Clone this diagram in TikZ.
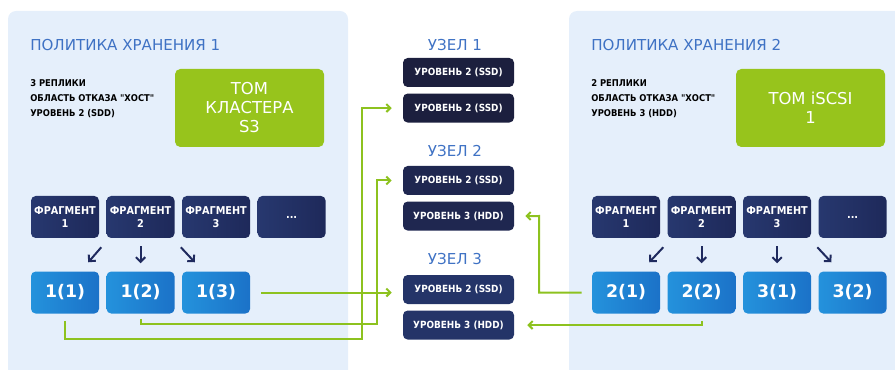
\documentclass[tikz,border=0pt]{standalone}
\usepackage{fontspec}
\setmainfont{DejaVu Sans}
\newfontfamily\condfont{DejaVu Sans Condensed}
\usetikzlibrary{arrows.meta, positioning}
\usepackage{xcolor}
\definecolor{panel}{HTML}{E5EFFB}
\definecolor{titleblue}{HTML}{3F72C4}
\definecolor{volgreen}{HTML}{97C41C}
\definecolor{linkgreen}{HTML}{8DC21F}
\definecolor{fragL}{HTML}{27386F}
\definecolor{fragR}{HTML}{1E295A}
\definecolor{replL}{HTML}{2492DC}
\definecolor{replR}{HTML}{1B72C8}
\definecolor{nodeA}{HTML}{1C1F3E}
\definecolor{nodeB}{HTML}{1F2750}
\definecolor{nodeC}{HTML}{243468}
\definecolor{arrownavy}{HTML}{1F2A5E}
\newcommand{\dq}{{\char34}}

\begin{document}
\begin{tikzpicture}[
x=0.75pt, y=-0.75pt,
node distance=5.25pt,
frag/.style={rectangle,
rounded corners=3.5pt,
minimum width=51pt,
minimum height=31.5pt,
inner sep=0pt,
align=center,
text=white,
font=\condfont\bfseries\fontsize{8.1}{9.75}\selectfont,
left color=fragL, right color=fragR},
replica/.style={frag,
font=\bfseries\fontsize{13}{15}\selectfont,
left color=replL, right color=replR},
disk/.style={rectangle,
rounded corners=3.5pt,
minimum width=83.25pt,
minimum height=21.75pt,
inner sep=0pt,
text=white,
font=\condfont\bfseries\fontsize{7.4}{8}\selectfont},
volume/.style={rectangle,
rounded corners=4pt,
fill=volgreen,
minimum width=111.75pt,
minimum height=58.5pt,
align=center,
text=white,
font=\fontsize{12.3}{14.25}\selectfont},
heading/.style={text=titleblue, inner sep=0pt, font=\fontsize{11.3}{13}\selectfont},
info/.style={anchor=west, inner sep=0pt, align=left, font=\condfont\bfseries\fontsize{7}{11.25}\selectfont},
link/.style={-{Straight Barb[length=3pt,width=6pt]}, linkgreen, line width=1.5pt},
drop/.style={-{Straight Barb[length=3.5pt,width=7pt]}, arrownavy, line width=1.5pt}
]
\useasboundingbox (0,0) rectangle (895,370);

% panels
\fill[panel, rounded corners=6pt] (8,11) rectangle (348,390);
\fill[panel, rounded corners=6pt] (569,11) rectangle (915,390);

% policy 1
\node[heading, anchor=west] (pol1) at (30,45) {ПОЛИТИКА ХРАНЕНИЯ 1};
\node[info] (pol1info) at (30,99) {3 РЕПЛИКИ\\ОБЛАСТЬ ОТКАЗА \dq ХОСТ\dq\\УРОВЕНЬ 2 (SDD)};
\node[volume] (vol1) at (249.5,108) {ТОМ\\КЛАСТЕРА\\S3};

\node[frag] (f11) at (65,217) {ФРАГМЕНТ\\1};
\node[frag, right=of f11] (f12) {ФРАГМЕНТ\\2};
\node[frag, right=of f12] (f13) {ФРАГМЕНТ\\3};
\node[frag, right=of f13] (f14) {...};

\node[replica, below=24.75pt of f11] (r11) {1(1)};
\node[replica, right=of r11] (r12) {1(2)};
\node[replica, right=of r12] (r13) {1(3)};

% nodes
\node[heading] (uzel1) at (455,45) {УЗЕЛ 1};
\node[disk, fill=nodeA] (n1a) at (458.5,72.5) {УРОВЕНЬ 2 (SSD)};
\node[disk, fill=nodeA, below=4.5pt of n1a] (n1b) {УРОВЕНЬ 2 (SSD)};

\node[heading] (uzel2) at (455,151) {УЗЕЛ 2};
\node[disk, fill=nodeB] (n2a) at (458.5,180.5) {УРОВЕНЬ 2 (SSD)};
\node[disk, fill=nodeB, below=4.5pt of n2a] (n2b) {УРОВЕНЬ 3 (HDD)};

\node[heading] (uzel3) at (455,259) {УЗЕЛ 3};
\node[disk, fill=nodeC] (n3a) at (458.5,289.5) {УРОВЕНЬ 2 (SSD)};
\node[disk, fill=nodeC, below=4.5pt of n3a] (n3b) {УРОВЕНЬ 3 (HDD)};

% policy 2
\node[heading, anchor=west] (pol2) at (591,45) {ПОЛИТИКА ХРАНЕНИЯ 2};
\node[info] (pol2info) at (591,99) {2 РЕПЛИКИ\\ОБЛАСТЬ ОТКАЗА \dq ХОСТ\dq\\УРОВЕНЬ 3 (HDD)};
\node[volume] (vol2) at (810.5,108) {ТОМ iSCSI\\1};

\node[frag] (f21) at (626,217) {ФРАГМЕНТ\\1};
\node[frag, right=of f21] (f22) {ФРАГМЕНТ\\2};
\node[frag, right=of f22] (f23) {ФРАГМЕНТ\\3};
\node[frag, right=of f23] (f24) {...};

\node[replica, below=24.75pt of f21] (r21) {2(1)};
\node[replica, right=of r21] (r22) {2(2)};
\node[replica, right=of r22] (r31) {3(1)};
\node[replica, right=of r31] (r32) {3(2)};

% fragments to replicas
\draw[drop] ([shift={(2,9)}]f11.south east) -- ([shift={(-11,-9)}]r11.north east);
\draw[drop] ([yshift=-6pt]f12.south) -- ([yshift=6pt]r12.north);
\draw[drop] ([shift={(-1,9)}]f13.south west) -- ([shift={(13,-9)}]r13.north west);

\draw[drop] ([shift={(3,9)}]f21.south east) -- ([shift={(-11,-9)}]r21.north east);
\draw[drop] ([yshift=-6pt]f22.south) -- ([yshift=6pt]r22.north);
\draw[drop] ([yshift=-6pt]f23.south) -- ([yshift=6pt]r31.north);
\draw[drop] ([shift={(-1,9)}]f24.south west) -- ([shift={(13,-9)}]r32.north west);

% replicas to nodes
\coordinate (b11) at (362,339);
\coordinate (b12) at (377,324);
\coordinate (b21) at (539,216);
\draw[link, shorten <=8.25pt, shorten >=8.25pt] (r13.east) -- (r13.east -| n3a.west);
\draw[link, shorten <=3.75pt, shorten >=8.25pt] (r12.south) |- (b12) |- (n2a.west);
\draw[link, shorten <=5.25pt, shorten >=8.25pt] (r11.south) |- (b11) |- (n1b.west);
\draw[link, shorten <=7.5pt, shorten >=8.25pt] (r21.west) -| (b21) -- (n2b.east);
\draw[link, shorten <=5.25pt, shorten >=9.75pt] (r22.south) |- (n3b.east);

\end{tikzpicture}
\end{document}
